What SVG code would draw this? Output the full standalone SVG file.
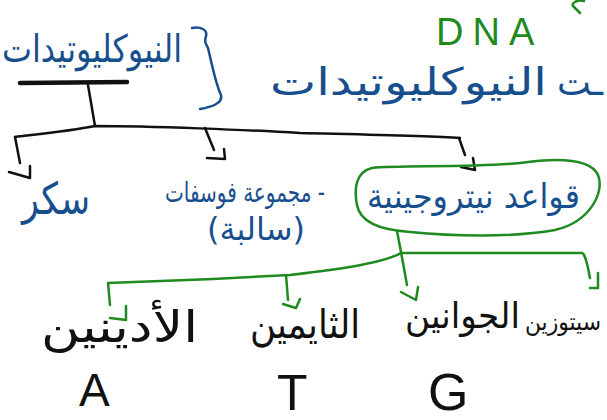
<svg xmlns="http://www.w3.org/2000/svg" width="607" height="420" viewBox="0 0 607 420">
<style>
.ar{font-family:"DejaVu Sans",sans-serif;}
.lat{font-family:"Liberation Sans",sans-serif;}
.blue{fill:#174f8e;}
.blk{fill:#111;}
.grn{fill:#1f8a1f;}
.sb{fill:none;stroke:#111;stroke-width:2.5;stroke-linecap:round;stroke-linejoin:round;}
.sg{fill:none;stroke:#1f8a1f;stroke-width:2.5;stroke-linecap:round;stroke-linejoin:round;}
.sbl{fill:none;stroke:#174f8e;stroke-width:2.5;stroke-linecap:round;stroke-linejoin:round;}
</style>
<rect width="607" height="420" fill="#fff"/>
<g id="title">
<text class="ar blue" x="2" y="62" font-size="38" textLength="180" lengthAdjust="spacingAndGlyphs">النيوكليوتيدات</text>
<path class="sbl" d="M192,28 C200,26 208,30 206,36 C204,42 206,44 208,48 C212,65 216,85 221,95 C223,103 212,107 200,109"/>
</g>
<g id="dna">
<text class="lat grn" x="436" y="45" font-size="38" letter-spacing="9">DNA</text>
<path class="sg" d="M584,1 C578,-1 571,3 573,6 L580,13"/>
</g>
<g id="subtitle">
<text class="ar blue" x="270" y="95" font-size="38" textLength="277" lengthAdjust="spacingAndGlyphs">النيوكليوتيدات</text>
<text class="ar blue" x="603" y="95" font-size="36" text-anchor="end">ـت</text>
</g>
<g id="connectors">
<path d="M20,83 L127,82" fill="none" stroke="#111" stroke-width="4.5" stroke-linecap="round"/>
<path class="sb" d="M88,85 L95,126"/>
<path class="sb" d="M15,137 C40,134 70,131 95,126 C150,126 250,130 300,133 C380,135 430,136 460,138"/>
<path class="sb" d="M15,137 L20,163 M9,172 L30,178 L30,166"/>
<path class="sb" d="M205,128 L214,150 M207,158 L225,159 L224,149"/>
<path class="sb" d="M459,138 L465,155 M461,167 L475,170 L473,158"/>
<path class="sg" d="M397,231 L401,252 L407,285 M401,292 L416,300 L418,287"/>
<path class="sg" d="M401,253 L582,253 C585,254 586,260 588,268 L590,278 M590,288 L598,288 L598,273"/>
<path class="sg" d="M401,253 C385,262 350,268 290,275 L213,279 L108,283 L110,305 M110,318 L126,320 L126,306"/>
<path class="sg" d="M286,275 L288,300 M283,304 L296,308 L300,299"/>
</g>
<g id="sugar">
<text class="ar blue" x="22" y="214" font-size="44" textLength="68" lengthAdjust="spacingAndGlyphs">سكر</text>
</g>
<g id="phosphate">
<text class="ar blue" x="165" y="202" font-size="28" textLength="160" lengthAdjust="spacingAndGlyphs">مجموعة فوسفات -</text>
<text class="ar blue" x="207" y="240" font-size="32" textLength="98" lengthAdjust="spacingAndGlyphs">(سالبة)</text>
</g>
<g id="bases">
<path class="sg" d="M372,168 C400,165 470,168 520,163 C555,158 590,158 598,175 C605,192 590,222 555,230 C510,238 450,236 410,232 C380,230 360,222 357,205 C354,190 355,172 372,168 Z"/>
<text class="ar blue" x="367" y="208" font-size="34" textLength="213" lengthAdjust="spacingAndGlyphs">قواعد نيتروجينية</text>
</g>
<g id="adenine">
<text class="ar blk" x="41" y="342" font-size="44" textLength="157" lengthAdjust="spacingAndGlyphs">الأدينين</text>
<text class="lat blk" x="79" y="406" font-size="46">A</text>
</g>
<g id="thymine">
<text class="ar blk" x="250" y="338" font-size="40" textLength="110" lengthAdjust="spacingAndGlyphs">الثايمين</text>
<text class="lat blk" x="277" y="410" font-size="50">T</text>
</g>
<g id="guanine">
<text class="ar blk" x="405" y="328" font-size="36" textLength="115" lengthAdjust="spacingAndGlyphs">الجوانين</text>
<text class="lat blk" x="428" y="410" font-size="52">G</text>
</g>
<g id="cytosine">
<text class="ar blk" x="525" y="330" font-size="24" textLength="76" lengthAdjust="spacingAndGlyphs">سيتوزين</text>
</g>
</svg>
